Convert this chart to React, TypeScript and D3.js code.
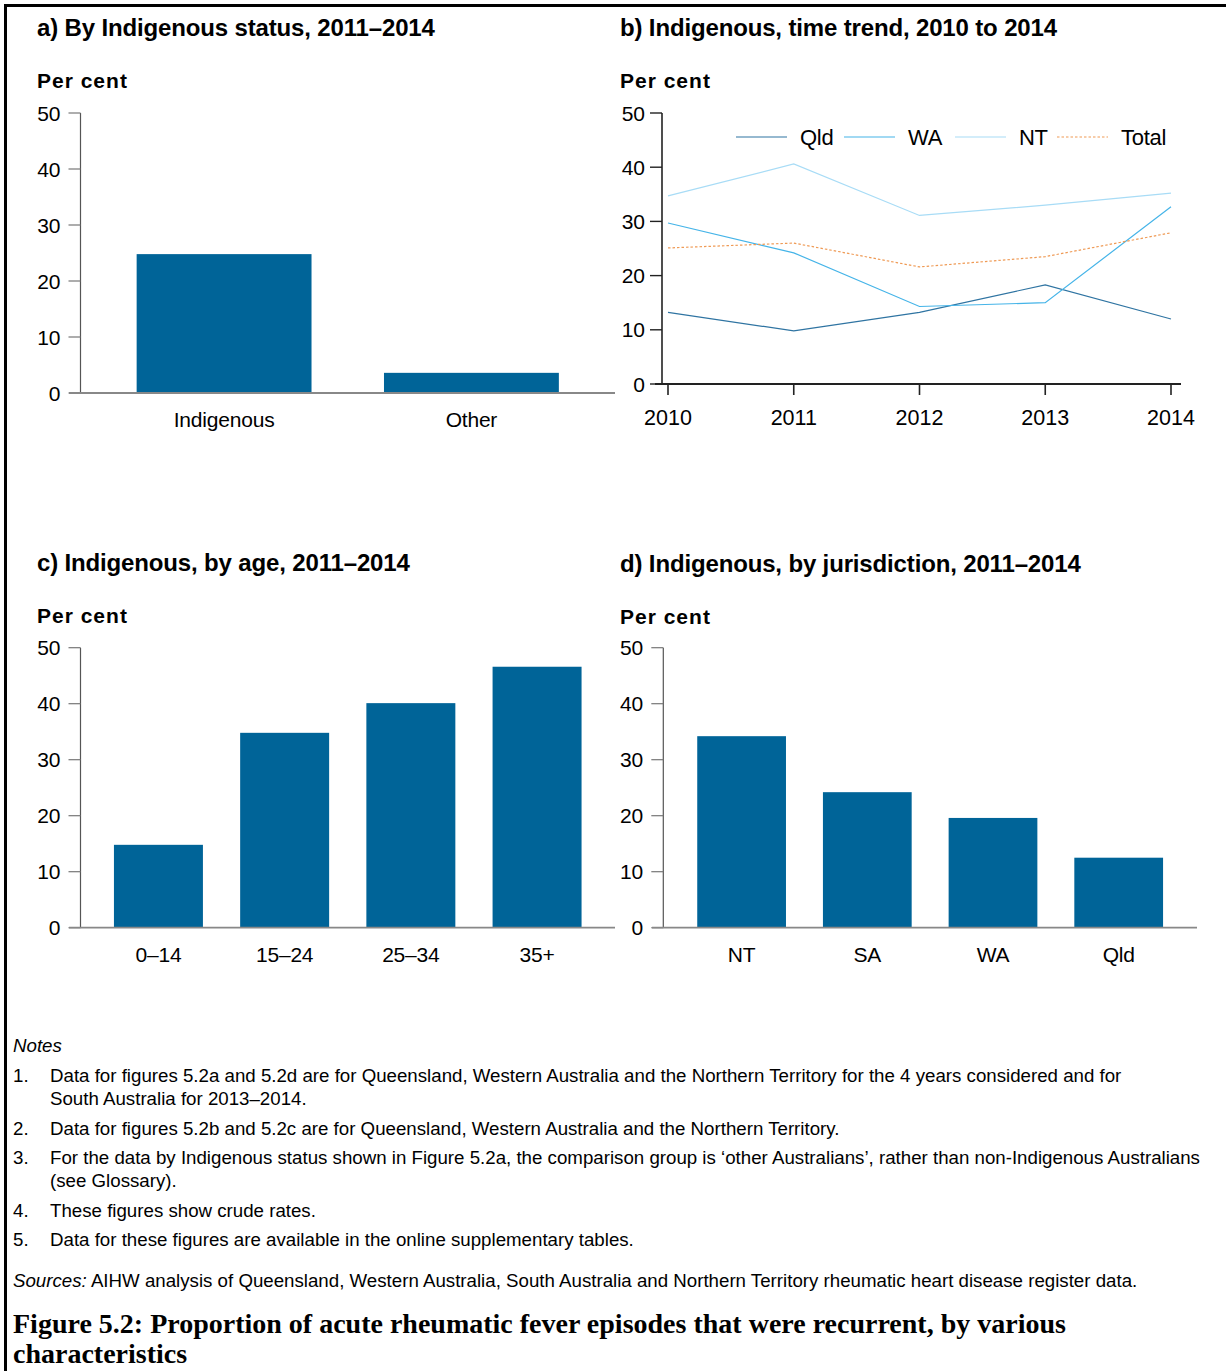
import React from "react";
import * as d3 from "d3";

const statusCats = ["Indigenous", "Other"];
const statusVals = [24.8, 3.6];

const ageCats = ["0–14", "15–24", "25–34", "35+"];
const ageVals = [14.8, 34.8, 40.1, 46.6];

const jurCats = ["NT", "SA", "WA", "Qld"];
const jurVals = [34.2, 24.2, 19.6, 12.5];

const years = [2010, 2011, 2012, 2013, 2014];
const qldVals = [13.2, 9.8, 13.2, 18.3, 12.0];
const waVals = [29.7, 24.2, 14.3, 15.0, 32.7];
const ntVals = [34.7, 40.6, 31.1, 33.0, 35.2];
const totalVals = [25.1, 26.0, 21.6, 23.5, 27.9];

const yTicks = [0, 10, 20, 30, 40, 50];

const notes = [
  ["1.", "Data for figures 5.2a and 5.2d are for Queensland, Western Australia and the Northern Territory for the 4 years considered and for", "South Australia for 2013–2014."],
  ["2.", "Data for figures 5.2b and 5.2c are for Queensland, Western Australia and the Northern Territory."],
  ["3.", "For the data by Indigenous status shown in Figure 5.2a, the comparison group is ‘other Australians’, rather than non-Indigenous Australians", "(see Glossary)."],
  ["4.", "These figures show crude rates."],
  ["5.", "Data for these figures are available in the online supplementary tables."],
];

const SANS = "'Liberation Sans', Arial, sans-serif";
const SERIF = "'Liberation Serif', 'Times New Roman', serif";
const BAR = "#006498";
const TITLE_FS = 24;
const TITLE_LS = -0.15;
const PC_FS = 21;
const PC_LS = 1.0;
const TICK_FS = 21;
const NOTE_FS = 18.7;

type BarProps = {
  title: string;
  tx: number;
  ty: number;
  x0: number;
  x1: number;
  y0: number;
  y1: number;
  cats: string[];
  vals: number[];
  padIn: number;
  padOut: number;
  axisStart: number;
};

function BarPanel(p: BarProps) {
  const x = d3.scaleBand<string>().domain(p.cats).range([p.x0, p.x1]).paddingInner(p.padIn).paddingOuter(p.padOut);
  const y = d3.scaleLinear().domain([0, 50]).range([p.y0, p.y1]);
  return (
    <g>
      <text x={p.tx} y={p.ty} fontFamily={SANS} fontWeight="bold" fontSize={TITLE_FS} letterSpacing={TITLE_LS}>{p.title}</text>
      <text x={p.tx} y={p.ty + 52} fontFamily={SANS} fontWeight="bold" fontSize={PC_FS} letterSpacing={PC_LS}>Per cent</text>
      {p.cats.map((c, i) => (
        <rect key={c} x={x(c)} y={y(p.vals[i])} width={x.bandwidth()} height={y(0) - y(p.vals[i])} fill={BAR} />
      ))}
      <line x1={p.x0} x2={p.x0} y1={y(50)} y2={y(0)} stroke="#555" strokeWidth={1.2} />
      {yTicks.map((t) => (
        <g key={t}>
          <line x1={p.x0 - 12} x2={p.x0} y1={y(t)} y2={y(t)} stroke="#777" strokeWidth={1.2} />
          <text x={p.x0 - 20} y={y(t)} dy="0.36em" textAnchor="end" fontFamily={SANS} fontSize={TICK_FS}>{t}</text>
        </g>
      ))}
      <line x1={p.axisStart} x2={p.x1} y1={y(0)} y2={y(0)} stroke="#888" strokeWidth={1.8} />
      {p.cats.map((c) => (
        <text key={c} x={(x(c) as number) + x.bandwidth() / 2} y={y(0) + 34} textAnchor="middle" fontFamily={SANS} fontSize={TICK_FS} letterSpacing={-0.2}>{c}</text>
      ))}
    </g>
  );
}

function LinePanel() {
  const x = d3.scalePoint<number>().domain(years).range([668, 1171]);
  const y = d3.scaleLinear().domain([0, 50]).range([384, 113]);
  const line = d3.line<number>().x((_, i) => x(years[i]) as number).y((v) => y(v));
  const series = [
    { name: "Qld", vals: qldVals, color: "#2f74a2", dash: undefined, lx: 736 },
    { name: "WA", vals: waVals, color: "#45b4e8", dash: undefined, lx: 844 },
    { name: "NT", vals: ntVals, color: "#a8dcf6", dash: undefined, lx: 955 },
    { name: "Total", vals: totalVals, color: "#ef9a55", dash: "2.5,2", lx: 1057 },
  ];
  return (
    <g>
      <text x={620} y={36} fontFamily={SANS} fontWeight="bold" fontSize={TITLE_FS} letterSpacing={TITLE_LS}>b) Indigenous, time trend, 2010 to 2014</text>
      <text x={620} y={88} fontFamily={SANS} fontWeight="bold" fontSize={PC_FS} letterSpacing={PC_LS}>Per cent</text>
      {series.map((s) => (
        <path key={s.name} d={line(s.vals) as string} fill="none" stroke={s.color} strokeWidth={1.2} strokeDasharray={s.dash} />
      ))}
      {series.map((s) => (
        <g key={s.name + "l"}>
          <line x1={s.lx} x2={s.lx + 51} y1={137} y2={137} stroke={s.color} strokeWidth={1.2} strokeDasharray={s.dash} />
          <text x={s.lx + 64} y={145} fontFamily={SANS} fontSize={22} letterSpacing={-0.3}>{s.name}</text>
        </g>
      ))}
      <line x1={662} x2={662} y1={113} y2={384} stroke="#222" strokeWidth={1.6} />
      {yTicks.map((t) => (
        <g key={t}>
          <line x1={650} x2={662} y1={y(t)} y2={y(t)} stroke="#222" strokeWidth={1.4} />
          <text x={645} y={y(t)} dy="0.36em" textAnchor="end" fontFamily={SANS} fontSize={TICK_FS}>{t}</text>
        </g>
      ))}
      <line x1={655} x2={1181} y1={384} y2={384} stroke="#222" strokeWidth={1.8} />
      {years.map((yr) => (
        <g key={yr}>
          <line x1={x(yr)} x2={x(yr)} y1={384} y2={395} stroke="#222" strokeWidth={1.6} />
          <text x={x(yr)} y={425} textAnchor="middle" fontFamily={SANS} fontSize={21.5}>{yr}</text>
        </g>
      ))}
    </g>
  );
}

export default function App() {
  const noteLines: { y: number; num?: string; text: string }[] = [];
  const baselines = [[1082, 1105], [1135], [1164, 1187], [1217], [1246]];
  notes.forEach((n, i) => {
    n.slice(1).forEach((t, j) => {
      noteLines.push({ y: baselines[i][j], num: j === 0 ? n[0] : undefined, text: t });
    });
  });
  return (
    <svg width={1226} height={1371} style={{ position: "absolute", left: 0, top: 0, background: "#fff" }}>
      <rect x={0} y={0} width={1226} height={1371} fill="#fff" />
      <line x1={4} x2={1226} y1={5.5} y2={5.5} stroke="#000" strokeWidth={3} />
      <line x1={5.5} x2={5.5} y1={4} y2={1371} stroke="#000" strokeWidth={3} />
      <BarPanel title="a) By Indigenous status, 2011–2014" tx={37} ty={36} x0={80.5} x1={615} y0={393} y1={113}
        cats={statusCats} vals={statusVals} padIn={0.293} padOut={0.227} axisStart={69} />
      <LinePanel />
      <BarPanel title="c) Indigenous, by age, 2011–2014" tx={37} ty={571} x0={80.5} x1={615} y0={927.7} y1={647.7}
        cats={ageCats} vals={ageVals} padIn={0.295} padOut={0.265} axisStart={69} />
      <BarPanel title="d) Indigenous, by jurisdiction, 2011–2014" tx={620} ty={572} x0={663.3} x1={1197} y0={927.7} y1={647.7}
        cats={jurCats} vals={jurVals} padIn={0.294} padOut={0.27} axisStart={652} />
      <text x={13} y={1052} fontFamily={SANS} fontStyle="italic" fontSize={NOTE_FS}>Notes</text>
      {noteLines.map((l, i) => (
        <g key={i}>
          {l.num && <text x={13} y={l.y} fontFamily={SANS} fontSize={NOTE_FS}>{l.num}</text>}
          <text x={50} y={l.y} fontFamily={SANS} fontSize={NOTE_FS}>{l.text}</text>
        </g>
      ))}
      <text x={13} y={1287} fontFamily={SANS} fontSize={NOTE_FS}>
        <tspan fontStyle="italic">Sources:</tspan> AIHW analysis of Queensland, Western Australia, South Australia and Northern Territory rheumatic heart disease register data.
      </text>
      <text x={13} y={1333} fontFamily={SERIF} fontWeight="bold" fontSize={28}>Figure 5.2: Proportion of acute rheumatic fever episodes that were recurrent, by various</text>
      <text x={13} y={1363} fontFamily={SERIF} fontWeight="bold" fontSize={28}>characteristics</text>
    </svg>
  );
}
